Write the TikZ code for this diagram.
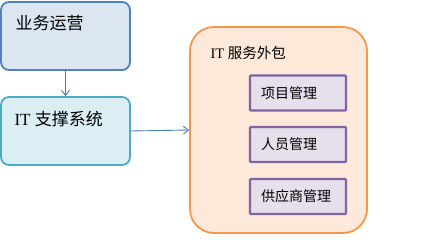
\documentclass[tikz,border=0pt]{standalone}
\usepackage{fontspec}
\setmainfont{Liberation Serif}
\newfontfamily\cjk{Noto Sans CJK SC}
\usetikzlibrary{arrows.meta,positioning}
\definecolor{opsfill}{HTML}{DCE6F2}
\definecolor{opsline}{HTML}{4F81BD}
\definecolor{supfill}{HTML}{DAEEF3}
\definecolor{supline}{HTML}{4BACC6}
\definecolor{outfill}{HTML}{FDE9D9}
\definecolor{outline}{HTML}{F79646}
\definecolor{taskfill}{HTML}{E5E0EC}
\definecolor{taskline}{HTML}{8064A2}
\definecolor{arrowblue}{HTML}{4A7EBB}

\begin{document}
\begin{tikzpicture}[
  x=1pt, y=1pt,
  flow/.style={-{Straight Barb[length=5pt,width=8pt]}, draw=arrowblue, line width=0.9pt},
  bigbox/.style={rounded corners=8pt, line width=1.8pt, minimum width=129pt, minimum height=68pt},
  taskbox/.style={draw=taskline, fill=taskfill, line width=2.2pt, rounded corners=1pt,
    minimum width=96pt, minimum height=32pt, text width=74pt, inner sep=11pt, align=left,
    font=\fontsize{14pt}{16pt}\selectfont\cjk},
  boxtext/.style={anchor=west, font=\fontsize{17pt}{20pt}\selectfont}
]
  \useasboundingbox (0,0) rectangle (445,-244);

  % left column
  \node[bigbox, draw=opsline, fill=opsfill] (ops) at (65.5,-36) {};
  \node[boxtext] (opstext) at (12,-23) {\cjk 业务运营};
  \node[bigbox, draw=supline, fill=supfill] (support) at (65.5,-131) {};
  \node[boxtext] (suptext) at (11,-119) {IT \cjk 支撑系统};

  % outsourcing block
  \node[draw=outline, fill=outfill, line width=1.8pt, rounded corners=24pt,
        minimum width=177pt, minimum height=206pt] (outs) at (278.5,-130) {};
  \node[anchor=west, font=\fontsize{14.5pt}{17pt}\selectfont] (outstext) at (207,-53) {IT \cjk 服务外包};

  \node[taskbox] (project) at (298,-93) {项目管理};
  \node[taskbox] (staff) at (298,-144.5) {人员管理};
  \node[taskbox] (vendor) at (298,-196.5) {供应商管理};

  \draw[flow] (ops) -- (support);
  \draw[flow] (support.east) -- (outs.west);
\end{tikzpicture}
\end{document}
